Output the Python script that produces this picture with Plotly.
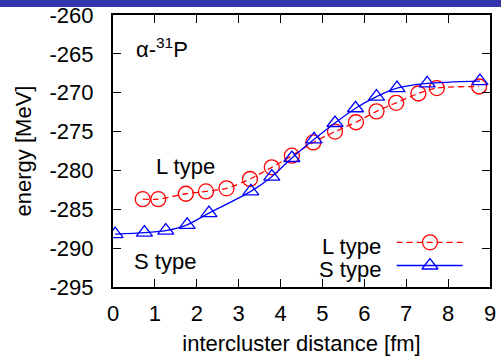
import plotly.graph_objects as go

# L type (red circles)
l_x = [0.71, 1.08, 1.74, 2.22, 2.71, 3.27, 3.79, 4.27, 4.78, 5.30, 5.80, 6.29, 6.76, 7.29, 7.73, 8.74]
l_y = [-283.7, -283.7, -283.0, -282.7, -282.3, -281.1, -279.6, -278.1, -276.4, -275.0, -273.8, -272.4, -271.3, -270.1, -269.4, -269.2]

# S type (blue triangles)
s_x = [0.05, 0.75, 1.26, 1.77, 2.29, 3.29, 3.79, 4.27, 4.80, 5.30, 5.79, 6.29, 6.78, 7.50, 8.76]
s_y = [-288.2, -288.0, -287.75, -287.0, -285.5, -282.7, -280.8, -278.4, -276.0, -273.9, -272.0, -270.5, -269.4, -268.8, -268.5]

x_ticks = [0, 1, 2, 3, 4, 5, 6, 7, 8, 9]
y_ticks = [-295, -290, -285, -280, -275, -270, -265, -260]
x_ticktext = [str(v) for v in x_ticks]
y_ticktext = [str(v) for v in y_ticks]

RED = "#FF0000"
BLUE = "#0000FF"
FONT = "Liberation Sans, Arial, sans-serif"
FS = 22

fig = go.Figure()

fig.add_trace(go.Scatter(
    x=l_x, y=l_y, mode="lines+markers", name="L type",
    line=dict(color=RED, width=1.3, dash="6px,4px", shape="spline", smoothing=0.8),
    marker=dict(symbol="circle-open", size=15, color=RED, line=dict(width=1.3, color=RED)),
    showlegend=False,
))
fig.add_trace(go.Scatter(
    x=s_x, y=s_y, mode="lines+markers", name="S type",
    line=dict(color=BLUE, width=1.3, shape="spline", smoothing=0.8),
    marker=dict(symbol="triangle-up-open", size=14, color=BLUE, line=dict(width=1.3, color=BLUE)),
    showlegend=False,
))

# custom gnuplot-style legend keys on an overlay axis (0..1 paper-like)
leg_y = [0.1643, 0.0790]
fig.add_trace(go.Scatter(x=[0.7525, 0.9276], y=[leg_y[0]] * 2, mode="lines",
                         line=dict(color=RED, width=1.3, dash="6px,4px"),
                         xaxis="x2", yaxis="y2", showlegend=False, hoverinfo="skip"))
fig.add_trace(go.Scatter(x=[0.8408], y=[leg_y[0]], mode="markers",
                         marker=dict(symbol="circle-open", size=15, color=RED, line=dict(width=1.3, color=RED)),
                         xaxis="x2", yaxis="y2", showlegend=False, hoverinfo="skip"))
fig.add_trace(go.Scatter(x=[0.7525, 0.9276], y=[leg_y[1]] * 2, mode="lines",
                         line=dict(color=BLUE, width=1.3),
                         xaxis="x2", yaxis="y2", showlegend=False, hoverinfo="skip"))
fig.add_trace(go.Scatter(x=[0.8408], y=[leg_y[1]], mode="markers",
                         marker=dict(symbol="triangle-up-open", size=14, color=BLUE, line=dict(width=1.3, color=BLUE)),
                         xaxis="x2", yaxis="y2", showlegend=False, hoverinfo="skip"))

axis_common = dict(
    showgrid=False, zeroline=False, showline=True, linecolor="black", linewidth=2,
    mirror="allticks", ticks="inside", ticklen=8, tickwidth=1.3, tickcolor="black",
    tickfont=dict(family=FONT, size=FS, color="black"), automargin=False,
)

fig.update_layout(
    width=501, height=356,
    margin=dict(l=113, r=11, t=15, b=69),
    paper_bgcolor="white", plot_bgcolor="white",
    font=dict(family=FONT, size=FS, color="black"),
    xaxis=dict(range=[0, 9], tickmode="array", tickvals=x_ticks, ticktext=x_ticktext, ticklabelstandoff=6,
               title=dict(text="intercluster distance [fm]", font=dict(family=FONT, size=FS), standoff=25),
               **axis_common),
    yaxis=dict(range=[-295, -260], tickmode="array", tickvals=y_ticks, ticktext=y_ticktext, ticklabelstandoff=13,
               title=dict(text="energy [MeV]", font=dict(family=FONT, size=FS), standoff=12),
               **axis_common),
    xaxis2=dict(overlaying="x", range=[0, 1], visible=False, fixedrange=True),
    yaxis2=dict(overlaying="y", range=[0, 1], visible=False, fixedrange=True),
    showlegend=False,
    shapes=[dict(type="rect", xref="paper", yref="paper",
                 x0=-0.32, x1=1.05, y0=1.0294, y1=1.08,
                 fillcolor="#3434AE", line=dict(width=0), layer="above")],
    annotations=[
        dict(text="α-<sup>31</sup>P", xref="paper", yref="paper", x=0.055, y=0.885, yshift=-2,
             xanchor="left", yanchor="middle", showarrow=False, font=dict(family=FONT, size=FS)),
        dict(text="L type", xref="x", yref="y", x=1.74, y=-279.3, yshift=-2,
             xanchor="center", yanchor="middle", showarrow=False, font=dict(family=FONT, size=FS)),
        dict(text="S type", xref="x", yref="y", x=1.25, y=-291.1, yshift=-5,
             xanchor="center", yanchor="middle", showarrow=False, font=dict(family=FONT, size=FS)),
        dict(text="L type", xref="paper", yref="paper", x=0.7127, y=leg_y[0], yshift=-4,
             xanchor="right", yanchor="middle", showarrow=False, borderpad=0, font=dict(family=FONT, size=FS)),
        dict(text="S type", xref="paper", yref="paper", x=0.7127, y=leg_y[1], yshift=-4,
             xanchor="right", yanchor="middle", showarrow=False, borderpad=0, font=dict(family=FONT, size=FS)),
    ],
)

fig.write_html("out.html")
